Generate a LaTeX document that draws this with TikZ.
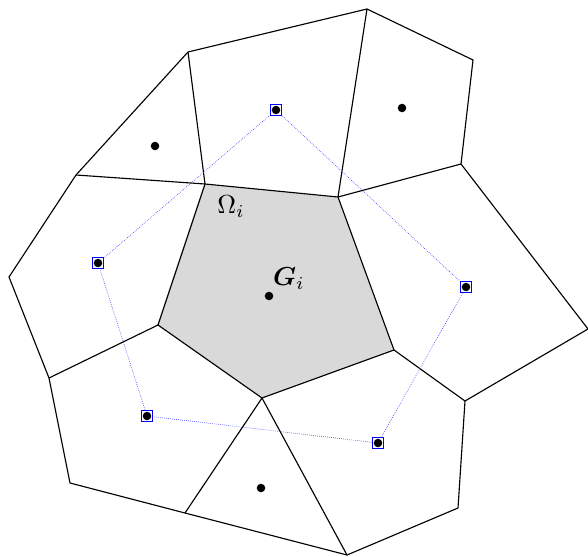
\documentclass[tikz,border=0pt]{standalone}
\usepackage{amsmath,bm}
\begin{document}
\begin{tikzpicture}[x=0.75pt,y=-0.75pt,
  edge/.style={line width=0.85pt,line join=round},
  cell/.style={fill=black!15,draw,line width=0.85pt,line join=round},
  bluelink/.style={blue!75,densely dotted,line width=0.5pt},
  sqnode/.style={draw=blue,line width=1.1pt,minimum size=8.6pt,inner sep=0pt,fill=white},
  dotc/.style={circle,fill=black,inner sep=0pt,minimum size=6.4pt},
  lbl/.style={inner sep=0pt}]
\useasboundingbox (0,0) rectangle (588,556);
% central cell vertices
\coordinate (A) at (205,184);
\coordinate (B) at (338,197);
\coordinate (C) at (394,350);
\coordinate (D) at (262,398);
\coordinate (E) at (158,325);
% outer vertices
\coordinate (o1) at (188,52);
\coordinate (o2) at (367,9);
\coordinate (o3) at (473,60);
\coordinate (o4) at (461,164);
\coordinate (o5) at (588,329);
\coordinate (o6) at (465,401);
\coordinate (o7) at (458,508);
\coordinate (o8) at (347,555);
\coordinate (o9) at (185,513);
\coordinate (o10) at (70,483);
\coordinate (o11) at (49,378);
\coordinate (o12) at (9,277);
\coordinate (o13) at (76,175);
% central cell
\draw[cell] (A) -- (B) -- (C) -- (D) -- (E) -- cycle;
% outer boundary
\draw[edge] (o1) -- (o2) -- (o3) -- (o4) -- (o5) -- (o6) -- (o7) -- (o8) -- (o9) -- (o10) -- (o11) -- (o12) -- (o13) -- cycle;
% inner edges
\draw[edge] (o13) -- (A);
\draw[edge] (o1) -- (A);
\draw[edge] (o2) -- (B);
\draw[edge] (o4) -- (B);
\draw[edge] (C) -- (o6);
\draw[edge] (D) -- (o8);
\draw[edge] (D) -- (o9);
\draw[edge] (E) -- (o11);
% centroids
\node[dotc] (g0) at (269,296) {};
\node[dotc] (g1) at (155,146) {};
\node[dotc] (g2) at (402,108) {};
\node[dotc] (g3) at (261,488) {};
% squares
\node[sqnode] (s1) at (276,110) {};
\node[sqnode] (s2) at (466,287) {};
\node[sqnode] (s3) at (378,443) {};
\node[sqnode] (s4) at (147,416) {};
\node[sqnode] (s5) at (98,263) {};
\draw[bluelink] (s1) -- (s2) -- (s3) -- (s4) -- (s5) -- (s1);
\foreach \s in {s1,s2,s3,s4,s5} \node[dotc] at (\s) {};
% labels
\node[lbl] (om) at (231,207) {\scalebox{1.95}{$\Omega_i$}};
\node[lbl] (gl) at (289,279) {\scalebox{1.95}{$\bm{G}_i$}};
\end{tikzpicture}
\end{document}
